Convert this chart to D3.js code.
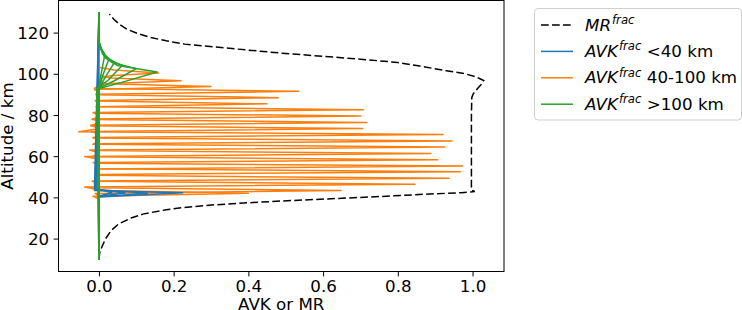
<!DOCTYPE html>
<html>
<head>
<meta charset="utf-8">
<script src="https://cdn.jsdelivr.net/npm/d3@7"></script>
<style>
  body { margin: 0; background: #fff; }
  svg { display: block; font-family: "DejaVu Sans", sans-serif; }
</style>
</head>
<body>
<svg></svg>
<script>
let width = 742
let height = 310
let plot = {left: 58.5, right: 504, top: 0.5, bottom: 271.5}

// altitude range of every profile (km)
let altBottom = 10
let altTop = 129.6

// MR^frac profile: [altitude, value]
let mrProfile = [
  [10, 0.0], [13, 0.002], [16, 0.008], [20, 0.018], [24, 0.033], [27, 0.052],
  [30, 0.086], [32, 0.12], [34, 0.18], [35, 0.22], [36.4, 0.31], [37.7, 0.43],
  [38.5, 0.52], [39.5, 0.64], [40.4, 0.75], [41.5, 0.87], [42.3, 0.97], [42.8, 1.006],
  [43.5, 0.997], [60, 0.997], [80, 0.997], [88.5, 0.998], [90.3, 1.002], [93, 1.014],
  [95, 1.024], [96.7, 1.03], [97.6, 1.02], [98.6, 1.008], [100, 0.98], [101.5, 0.93],
  [104, 0.85], [105.5, 0.8], [107.1, 0.7], [108.5, 0.6], [110, 0.49], [111, 0.43],
  [112.5, 0.34], [114.4, 0.23], [116, 0.18], [117.6, 0.139], [119.5, 0.105],
  [121.6, 0.075], [124, 0.055], [126.5, 0.04], [129, 0.028]
]

// AVK^frac 40-100 km kernels: peak altitude, peak value, lobe below, lobe above
let orangeAlt = [42.0, 43.3, 46.4, 49.3, 52.5, 55.2, 58.3, 61.3, 64.4, 67.4, 70.5,
                 73.4, 76.4, 79.5, 82.6, 85.4, 88.4, 91.5, 93.8, 96.6, 100.4]
let orangePeak = [0.40, 0.648, 0.846, 0.937, 0.968, 0.973, 0.907, 0.888, 0.926, 0.945, 0.921,
                  0.706, 0.717, 0.701, 0.708, 0.45, 0.48, 0.535, 0.30, 0.22, 0.16]
let orangeBelow = [-0.016, -0.01, -0.038, -0.018, -0.005, -0.01, -0.015, -0.038, -0.025, -0.01, -0.016,
                   -0.02, -0.022, -0.018, -0.016, -0.007, -0.01, -0.008, -0.012, 0.01, 0.03]
let orangeAbove = [0.0, -0.005, -0.01, -0.01, -0.01, -0.005, -0.018, -0.01, -0.016, -0.016, -0.054,
                   -0.022, -0.018, -0.01, -0.007, -0.005, -0.008, -0.012, 0.02, 0.03, 0.04]

// AVK^frac <40 km kernels: [altitude, value] nodes
let blueKernels = [
  [[40.2, 0], [42.3, 0.224], [43.4, -0.012]],
  [[40.3, 0], [42.0, 0.13], [43.8, -0.008]],
  [[40.5, 0], [42.1, 0.07], [44.0, -0.01]],
  [[40.7, 0], [42.2, 0.035], [44.2, -0.005]]
]

// AVK^frac >100 km kernels: [altitude, value] nodes
let greenKernels = [
  [[92.5, -0.006], [96.2, 0.068], [100.9, 0.156], [104, 0.05], [108, 0.015], [115.5, 0]],
  [[92.5, -0.005], [96.5, 0.04], [102.5, 0.10], [105.5, 0.035], [109.5, 0.01], [115.5, 0]],
  [[92.8, -0.003], [97, 0.025], [104.1, 0.063], [107, 0.025], [111, 0.007], [115.5, 0]],
  [[93, 0], [98, 0.016], [105.7, 0.042], [108.5, 0.017], [112, 0.005], [115.5, 0]],
  [[93, 0], [99, 0.01], [107.3, 0.027], [110, 0.012], [113, 0.003], [115.5, 0]],
  [[93.5, 0], [100, 0.006], [109.5, 0.016], [112, 0.007], [115.5, 0]]
]

let xTicks = [0, 0.2, 0.4, 0.6, 0.8, 1.0]
let yTicks = [20, 40, 60, 80, 100, 120]

let legendItems = [
  {base: 'MR', sup: 'frac', rest: '', color: '#000', dash: '7.7,3.3'},
  {base: 'AVK', sup: 'frac', rest: ' <40 km', color: '#1f77b4', dash: null},
  {base: 'AVK', sup: 'frac', rest: ' 40-100 km', color: '#ff7f0e', dash: null},
  {base: 'AVK', sup: 'frac', rest: ' >100 km', color: '#2ca02c', dash: null}
]

// full kernel lines, zero outside their nodes
let withEnds = nodes => [[altBottom, 0], ...nodes, [altTop, 0]]

let orangeKernels = orangeAlt.map((a, i) => withEnds([
  [a - 2.8, 0], [a - 1.4, orangeBelow[i]], [a, orangePeak[i]],
  [a + 1.4, orangeAbove[i]], [a + 2.8, 0]
]))
let blueLines = blueKernels.map(withEnds)
let greenLines = greenKernels.map(withEnds)

let allPoints = [mrProfile, ...orangeKernels, ...blueLines, ...greenLines].flat()
let xExt = d3.extent(allPoints, d => d[1])
let yExt = d3.extent(allPoints, d => d[0])
let xPad = (xExt[1] - xExt[0]) * 0.05
let yPad = (yExt[1] - yExt[0]) * 0.05

let x = d3.scaleLinear()
          .domain([xExt[0] - xPad, xExt[1] + xPad])
          .range([plot.left, plot.right])
let y = d3.scaleLinear()
          .domain([yExt[0] - yPad, yExt[1] + yPad])
          .range([plot.bottom, plot.top])

let line = d3.line()
              .x(d => x(d[1]))
              .y(d => y(d[0]))

let svg = d3.select('svg')
    .attr('width', width)
    .attr('height', height)

svg.append('path')
    .datum(mrProfile)
    .attr('d', line)
    .attr('fill', 'none')
    .attr('stroke', '#000')
    .attr('stroke-width', 1.5)
    .attr('stroke-dasharray', '7.7,3.3')

function drawKernels(lines, color) {
  svg.append('g')
    .selectAll('path')
    .data(lines)
    .enter()
    .append('path')
      .attr('d', line)
      .attr('fill', 'none')
      .attr('stroke', color)
      .attr('stroke-width', 1.5)
      .attr('stroke-linejoin', 'round')
}

drawKernels(orangeKernels, '#ff7f0e')
drawKernels(blueLines, '#1f77b4')
drawKernels(greenLines, '#2ca02c')

// frame
svg.append('rect')
    .attr('x', plot.left)
    .attr('y', plot.top)
    .attr('width', plot.right - plot.left)
    .attr('height', plot.bottom - plot.top)
    .attr('fill', 'none')
    .attr('stroke', '#000')
    .attr('stroke-width', 1)

let xAxis = svg.append('g')
    .attr('transform', `translate(0, ${plot.bottom})`)
    .call(d3.axisBottom(x).tickValues(xTicks).tickFormat(d3.format('.1f')).tickSize(4.9).tickPadding(4))
let yAxis = svg.append('g')
    .attr('transform', `translate(${plot.left}, 0)`)
    .call(d3.axisLeft(y).tickValues(yTicks).tickSize(4.9).tickPadding(4.5))

;[xAxis, yAxis].forEach(ax => {
  ax.select('.domain').remove()
  ax.selectAll('line').attr('stroke', '#000').attr('stroke-width', 1)
  ax.selectAll('text')
    .attr('fill', '#000')
    .style('font-size', '16.7px')
    .style('font-family', '"DejaVu Sans", sans-serif')
})
xAxis.selectAll('text').attr('dy', null).attr('y', 20.3)
yAxis.selectAll('text').attr('dy', '0.36em')

svg.append('text')
    .attr('x', (plot.left + plot.right) / 2)
    .attr('y', 309.5)
    .attr('text-anchor', 'middle')
    .style('font-size', '16.7px')
    .text('AVK or MR')

svg.append('text')
    .attr('transform', `translate(13, ${(plot.top + plot.bottom) / 2}) rotate(-90)`)
    .attr('text-anchor', 'middle')
    .style('font-size', '16.7px')
    .text('Altitude / km')

// legend
let legend = svg.append('g')
legend.append('rect')
    .attr('x', 534.5)
    .attr('y', 8.5)
    .attr('width', 207)
    .attr('height', 111.5)
    .attr('rx', 3.5)
    .attr('fill', '#fff')
    .attr('stroke', '#d0d0d0')
    .attr('stroke-width', 1)

let rows = legend.selectAll('.row')
    .data(legendItems)
    .enter()
    .append('g')
      .classed('row', true)
      .attr('transform', (d, i) => `translate(0, ${25 + i * 26.4})`)

rows.append('line')
    .attr('x1', 541)
    .attr('x2', 573)
    .attr('stroke', d => d.color)
    .attr('stroke-width', 1.5)
    .attr('stroke-dasharray', d => d.dash)

let labels = rows.append('text')
    .attr('x', 585)
    .attr('y', 5.5)
    .style('font-size', '16.7px')
labels.append('tspan')
    .style('font-style', 'italic')
    .text(d => d.base)
labels.append('tspan')
    .style('font-style', 'italic')
    .style('font-size', '11.7px')
    .attr('dx', 1)
    .attr('dy', -6.5)
    .text(d => d.sup)
labels.append('tspan')
    .attr('dy', 6.5)
    .text(d => d.rest)
</script>
</body>
</html>
